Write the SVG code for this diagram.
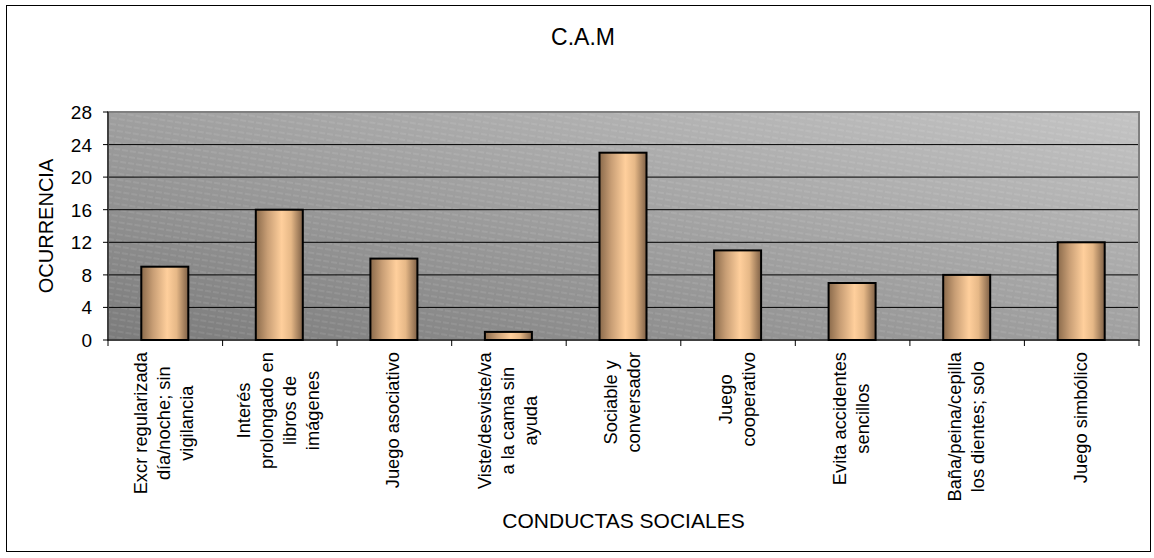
<svg xmlns="http://www.w3.org/2000/svg" width="1154" height="558" viewBox="0 0 1154 558">
<style>
text{font-family:"Liberation Sans",Arial,sans-serif;fill:#000}
.tick{font-size:19px;text-anchor:end}
.cat{font-size:18.3px;text-anchor:middle}
.grid{stroke:#000;stroke-width:1}
.bar{fill:url(#barGrad);stroke:#000;stroke-width:2}
.ax{stroke:#000;stroke-width:1;fill:none}
</style>
<defs>
<linearGradient id="bgGrad" x1="0" y1="1" x2="1" y2="0">
<stop offset="0" stop-color="#7b7b7b"/>
<stop offset="1" stop-color="#c4c4c4"/>
</linearGradient>
<pattern id="stripes" width="24" height="6" patternUnits="userSpaceOnUse" patternTransform="rotate(9)">
<line x1="0" y1="3" x2="24" y2="3" stroke="#ffffff" stroke-opacity="0.22" stroke-width="0.8" stroke-dasharray="6 2"/>
</pattern>
<linearGradient id="barGrad" x1="0" y1="0" x2="1" y2="0">
<stop offset="0" stop-color="#8a6a4b"/>
<stop offset="0.25" stop-color="#c89e75"/>
<stop offset="0.55" stop-color="#ffcf9c"/>
<stop offset="0.75" stop-color="#e6b887"/>
<stop offset="1" stop-color="#7e6046"/>
</linearGradient>
</defs>
<rect x="6.5" y="5.5" width="1144" height="546" fill="#fff" stroke="#000" stroke-width="1"/>
<text x="583" y="45" font-size="23" text-anchor="middle">C.A.M</text>
<g id="plot">
<rect x="108" y="112" width="1031" height="228" fill="url(#bgGrad)"/>
<rect x="108" y="112" width="1031" height="228" fill="url(#stripes)"/>
<line class="grid" x1="108" y1="307.4" x2="1139" y2="307.4"/>
<line class="grid" x1="108" y1="274.9" x2="1139" y2="274.9"/>
<line class="grid" x1="108" y1="242.3" x2="1139" y2="242.3"/>
<line class="grid" x1="108" y1="209.7" x2="1139" y2="209.7"/>
<line class="grid" x1="108" y1="177.1" x2="1139" y2="177.1"/>
<line class="grid" x1="108" y1="144.6" x2="1139" y2="144.6"/>
<rect x="108" y="112" width="1031" height="228" fill="none" stroke="#808080" stroke-width="2"/>
</g>
<g id="bars">
<rect class="bar" x="141.3" y="266.7" width="47" height="73.3"/>
<rect class="bar" x="255.8" y="209.7" width="47" height="130.3"/>
<rect class="bar" x="370.4" y="258.6" width="47" height="81.4"/>
<rect class="bar" x="484.9" y="331.9" width="47" height="8.1"/>
<rect class="bar" x="599.5" y="152.7" width="47" height="187.3"/>
<rect class="bar" x="714.1" y="250.4" width="47" height="89.6"/>
<rect class="bar" x="828.6" y="283" width="47" height="57"/>
<rect class="bar" x="943.2" y="274.9" width="47" height="65.1"/>
<rect class="bar" x="1057.7" y="242.3" width="47" height="97.7"/>
</g>
<g id="axes">
<path class="ax" d="M108 112V340H1139"/>
<path class="ax" d="M103 112H108M103 144.6H108M103 177.1H108M103 209.7H108M103 242.3H108M103 274.9H108M103 307.4H108M103 340H108"/>
<path class="ax" d="M108 340V346M222.6 340V346M337.1 340V346M451.7 340V346M566.2 340V346M680.8 340V346M795.3 340V346M909.9 340V346M1024.4 340V346M1139 340V346"/>
</g>
<g id="ylabels">
<text class="tick" x="92" y="119">28</text>
<text class="tick" x="92" y="151.6">24</text>
<text class="tick" x="92" y="184.1">20</text>
<text class="tick" x="92" y="216.7">16</text>
<text class="tick" x="92" y="249.3">12</text>
<text class="tick" x="92" y="281.9">8</text>
<text class="tick" x="92" y="314.4">4</text>
<text class="tick" x="92" y="347">0</text>
</g>
<text transform="translate(52.5,226) rotate(-90)" font-size="20" text-anchor="middle">OCURRENCIA</text>
<g id="xlabels">
<text class="cat" transform="translate(147,423.2) rotate(-90)">Excr regularizada</text>
<text class="cat" transform="translate(170,423.2) rotate(-90)">día/noche; sin</text>
<text class="cat" transform="translate(193,423.2) rotate(-90)">vigilancia</text>
<text class="cat" transform="translate(250,410.5) rotate(-90)">Interés</text>
<text class="cat" transform="translate(273,410.5) rotate(-90)">prolongado en</text>
<text class="cat" transform="translate(296,410.5) rotate(-90)">libros de</text>
<text class="cat" transform="translate(319,410.5) rotate(-90)">imágenes</text>
<text class="cat" transform="translate(399.4,420.1) rotate(-90)">Juego asociativo</text>
<text class="cat" transform="translate(490.9,420.7) rotate(-90)">Viste/desviste/va</text>
<text class="cat" transform="translate(513.9,420.7) rotate(-90)">a la cama sin</text>
<text class="cat" transform="translate(536.9,420.7) rotate(-90)">ayuda</text>
<text class="cat" transform="translate(617,402.3) rotate(-90)">Sociable y</text>
<text class="cat" transform="translate(640,402.3) rotate(-90)">conversador</text>
<text class="cat" transform="translate(731.6,399.3) rotate(-90)">Juego</text>
<text class="cat" transform="translate(754.6,399.3) rotate(-90)">cooperativo</text>
<text class="cat" transform="translate(846.1,418.6) rotate(-90)">Evita accidentes</text>
<text class="cat" transform="translate(869.1,418.6) rotate(-90)">sencillos</text>
<text class="cat" transform="translate(960.7,426.8) rotate(-90)">Baña/peina/cepilla</text>
<text class="cat" transform="translate(983.7,426.8) rotate(-90)">los dientes; solo</text>
<text class="cat" transform="translate(1086.7,417.6) rotate(-90)">Juego simbólico</text>
</g>
<text x="623.5" y="528" font-size="21" text-anchor="middle">CONDUCTAS SOCIALES</text>
</svg>
